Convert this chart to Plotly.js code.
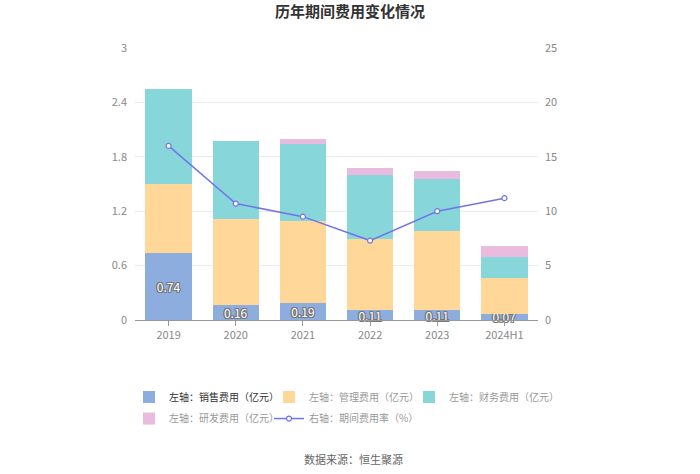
<!DOCTYPE html>
<html>
<head>
<meta charset="utf-8">
<script src="https://cdn.plot.ly/plotly-3.0.1.min.js"></script>
<style>html,body{margin:0;padding:0;background:#fff;}#chart{width:700px;height:474px;}</style>
</head>
<body>
<div id="chart"></div>
<script>
const categories = ["2019", "2020", "2021", "2022", "2023", "2024H1"];
const salesExp = [0.74, 0.16, 0.19, 0.11, 0.11, 0.07];
const mgmtExp = [0.76, 0.95, 0.90, 0.78, 0.87, 0.39];
const finExp = [1.05, 0.86, 0.85, 0.71, 0.575, 0.23];
const rdExp = [0, 0, 0.055, 0.08, 0.09, 0.13];
const expenseRate = [16.0, 10.7, 9.5, 7.3, 10.0, 11.2];
const leftTicks = [0, 0.6, 1.2, 1.8, 2.4, 3];
const rightTicks = [0, 5, 10, 15, 20, 25];
const seriesNames = ['左轴：销售费用（亿元）', '左轴：管理费用（亿元）', '左轴：财务费用（亿元）', '左轴：研发费用（亿元）', '右轴：期间费用率（%）'];

const FONT = '"Noto Sans CJK SC", "Noto Sans", sans-serif';
const oc = '#777';
const outline = `1px 1px 0 ${oc}, -1px -1px 0 ${oc}, 1px -1px 0 ${oc}, -1px 1px 0 ${oc}, 0 1px 0 ${oc}, 0 -1px 0 ${oc}, 1px 0 0 ${oc}, -1px 0 0 ${oc}`;

const traces = [
  {type:'bar', name:seriesNames[0], legend:'legend', x:categories, y:salesExp,
   marker:{color:'#8DADDF'}, text:salesExp.map(v=>v.toFixed(2)), textposition:'inside',
   insidetextanchor:'middle', constraintext:'none', cliponaxis:false,
   textfont:{color:'#fff', size:12, family:FONT, shadow:outline}, hoverinfo:'skip'},
  {type:'bar', name:seriesNames[1], legend:'legend2', x:categories, y:mgmtExp, marker:{color:'#FFD899'}, hoverinfo:'skip'},
  {type:'bar', name:seriesNames[2], legend:'legend3', x:categories, y:finExp, marker:{color:'#87D6D9'}, hoverinfo:'skip'},
  {type:'bar', name:seriesNames[3], legend:'legend4', x:categories, y:rdExp, marker:{color:'#E8BBDF'}, hoverinfo:'skip'},
  {type:'scatter', mode:'lines+markers', name:seriesNames[4], legend:'legend5', x:categories, y:expenseRate, yaxis:'y2',
   line:{color:'#7275E9', width:1.5}, marker:{symbol:'circle', size:5, color:'#fff', line:{color:'#7275E9', width:1.2}}, hoverinfo:'skip'}
];

function legendAt(x, y, color) {
  return {orientation:'h', x:x, xanchor:'left', y:y, yanchor:'top', itemwidth:30,
    font:{size:10, color:color, family:FONT}, bgcolor:'rgba(0,0,0,0)'};
}
const row1 = -0.23, row2 = -0.309;

const layout = {
  width:700, height:474,
  margin:{l:135, r:162, t:48, b:154},
  paper_bgcolor:'#fff', plot_bgcolor:'#fff',
  font:{family:FONT, color:'#666', size:11},
  barmode:'stack', bargap:0.31,
  title:{text:'<b>历年期间费用变化情况</b>', x:0.5, xanchor:'center', y:0.9747, yanchor:'middle', font:{size:15, color:'#333', family:FONT}},
  xaxis:{type:'category', showgrid:false, showline:true, linecolor:'#999', linewidth:1, ticks:'outside', ticklen:5, tickcolor:'#999',
    tickfont:{size:11, color:'#888'}, zeroline:false, fixedrange:true},
  yaxis:{range:[0,3], tickvals:leftTicks, ticktext:leftTicks.map(String), showgrid:true, gridcolor:'#EBEBEB', zeroline:false,
    showline:false, tickfont:{size:11, color:'#888'}, ticks:'', ticklabelstandoff:7, fixedrange:true},
  yaxis2:{range:[0,25], tickvals:rightTicks, overlaying:'y', side:'right', showgrid:false, zeroline:false, showline:false,
    tickfont:{size:11, color:'#888'}, ticklabelstandoff:6, fixedrange:true},
  showlegend:true,
  legend: legendAt(-0.0149, row1, '#333'),
  legend2: legendAt(0.3325, row1, '#999'),
  legend3: legendAt(0.6799, row1, '#999'),
  legend4: legendAt(-0.0149, row2, '#999'),
  legend5: legendAt(0.3325, row2, '#999'),
  annotations:[
    {text:'数据来源：恒生聚源', xref:'paper', yref:'paper', x:0.541, y:-0.511, xanchor:'center', yanchor:'middle', showarrow:false,
     font:{size:11, color:'#666', family:FONT}}
  ]
};

Plotly.newPlot('chart', traces, layout, {displayModeBar:false, staticPlot:true});
</script>
</body>
</html>
